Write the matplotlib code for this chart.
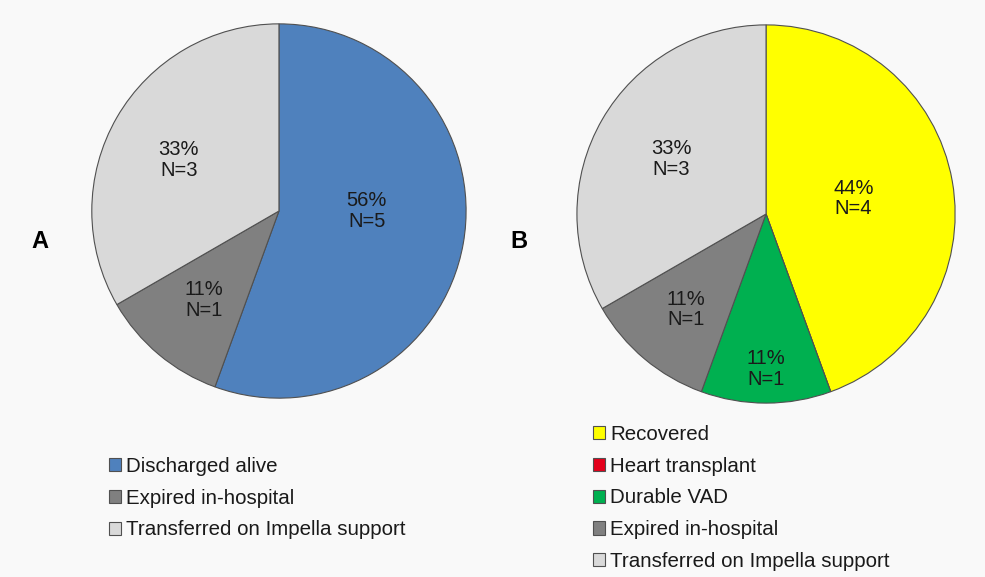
import matplotlib.pyplot as plt
import numpy as np

plt.rcParams["font.family"] = ["Liberation Sans", "DejaVu Sans"]

# panel A
labels_a = ["Discharged alive", "Expired in-hospital", "Transferred on Impella support"]
counts_a = [5, 1, 3]
colors_a = ["#4f81bd", "#808080", "#d9d9d9"]

# panel B
labels_b = ["Recovered", "Heart transplant", "Durable VAD", "Expired in-hospital",
            "Transferred on Impella support"]
counts_b = [4, 0, 1, 1, 3]
colors_b = ["#ffff00", "#e3001b", "#00b050", "#808080", "#d9d9d9"]

# data label placement: fraction of radius, and angle nudge (deg) from wedge middle
label_r_a = [0.47, 0.62, 0.60]
label_turn_a = [10, 0, 3]
label_r_b = [0.47, 0, 0.82, 0.66, 0.58]
label_turn_b = [0, 0, 0, 0, 0]


def draw_pie(ax, counts, colors, label_r, label_turn):
    wedges, _ = ax.pie(counts, colors=colors, startangle=90, counterclock=False,
                       wedgeprops=dict(edgecolor="#505050", linewidth=0.8))
    total = sum(counts)
    for w, n, r, t in zip(wedges, counts, label_r, label_turn):
        if n == 0:
            continue
        mid = np.deg2rad((w.theta1 + w.theta2) / 2 + t)
        ax.text(r * np.cos(mid), r * np.sin(mid), f"{round(100 * n / total)}%\nN={n}",
                ha="center", va="center", fontsize=14.5, color="#1a1a1a", linespacing=1.1)
    ax.set_xlim(-1.01, 1.01)
    ax.set_ylim(-1.01, 1.01)
    ax.set_aspect("equal")
    ax.axis("off")
    return wedges


fig = plt.figure(figsize=(9.85, 5.77), dpi=100, facecolor="#f9f9f9")

ax_a = fig.add_axes([0.2832 - 0.1919, 0.6343 - 0.3278, 0.3838, 0.6556])
wedges_a = draw_pie(ax_a, counts_a, colors_a, label_r_a, label_turn_a)

ax_b = fig.add_axes([0.7777 - 0.1939, 0.6291 - 0.3311, 0.3878, 0.6622])
wedges_b = draw_pie(ax_b, counts_b, colors_b, label_r_b, label_turn_b)

fig.text(40 / 985, 1 - 241 / 577, "A", fontsize=17, fontweight="bold", ha="center", va="center")
fig.text(519 / 985, 1 - 241 / 577, "B", fontsize=17, fontweight="bold", ha="center", va="center")

leg_kw = dict(frameon=False, fontsize=14.8, handlelength=0.6, handleheight=0.6,
              handletextpad=0.25, labelspacing=0.62, borderpad=0, borderaxespad=0,
              loc="upper left", labelcolor="#1a1a1a")
fig.legend(wedges_a, labels_a, bbox_to_anchor=(109 / 985, 1 - 457 / 577), **leg_kw)
fig.legend(wedges_b, labels_b, bbox_to_anchor=(593 / 985, 1 - 425 / 577), **leg_kw)

fig.savefig("out.png", dpi=100, facecolor=fig.get_facecolor())
